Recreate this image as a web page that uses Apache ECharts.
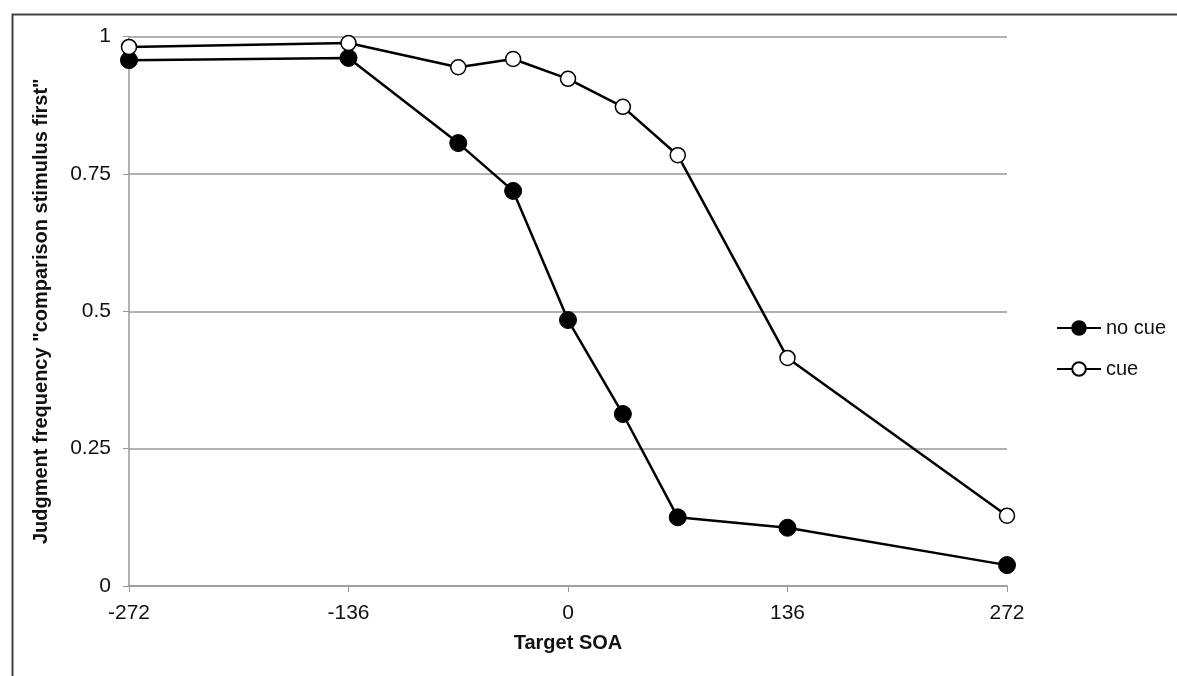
<!DOCTYPE html>
<html>
<head>
<meta charset="utf-8">
<script src="https://cdn.jsdelivr.net/npm/echarts@6/dist/echarts.min.js"></script>
<style>html,body{margin:0;padding:0;background:#fff;}#c{width:1177px;height:676px;}</style>
</head>
<body>
<div id="c"></div>
<script>
const soa = [-272, -136, -68, -34, 0, 34, 68, 136, 272];
const noCue = [0.957, 0.961, 0.806, 0.719, 0.484, 0.313, 0.125, 0.106, 0.038];
const cue = [0.981, 0.988, 0.944, 0.959, 0.923, 0.872, 0.784, 0.415, 0.128];
const xTicks = [-272, -136, 0, 136, 272];
const yTicks = [0, 0.25, 0.5, 0.75, 1];

const chart = echarts.init(document.getElementById('c'));
const font = 'Liberation Sans, Arial, sans-serif';
chart.setOption({
  animation: false,
  backgroundColor: '#fff',
  graphic: [{
    type: 'rect', left: 10, top: 12, z: -1,
    shape: { width: 1200, height: 700 },
    style: { fill: 'none', stroke: '#444', lineWidth: 2 }
  }],
  grid: { left: 129, right: 170, top: 36.5, bottom: 90 },
  legend: {
    orient: 'vertical', left: 1056, top: 318, itemGap: 21, padding: 0,
    itemWidth: 44, itemHeight: 17,
    textStyle: { fontFamily: font, fontSize: 20, color: '#111' },
    data: ['no cue', 'cue']
  },
  xAxis: {
    type: 'value', min: -272, max: 272, interval: 136,
    name: 'Target SOA', nameLocation: 'middle', nameGap: 47,
    nameTextStyle: { fontFamily: font, fontSize: 20, fontWeight: 'bold', color: '#111' },
    axisLine: { lineStyle: { color: '#999', width: 1.5 } },
    axisTick: { show: true, length: 6, lineStyle: { color: '#999' } },
    splitLine: { show: false },
    axisLabel: { fontFamily: font, fontSize: 21, color: '#111', margin: 17,
      formatter: v => xTicks.includes(v) ? String(v) : '' }
  },
  yAxis: {
    type: 'value', min: 0, max: 1, interval: 0.25,
    name: 'Judgment frequency "comparison stimulus first"', nameLocation: 'middle', nameGap: 78,
    nameTextStyle: { fontFamily: font, fontSize: 20, fontWeight: 'bold', color: '#111' },
    axisLine: { show: true, onZero: false, lineStyle: { color: '#999', width: 1.5 } },
    axisTick: { show: true, length: 6, lineStyle: { color: '#999' } },
    splitLine: { lineStyle: { color: '#999', width: 1.5 } },
    axisLabel: { fontFamily: font, fontSize: 21, color: '#111', margin: 18,
      formatter: v => yTicks.includes(v) ? String(v) : '' }
  },
  series: [
    {
      name: 'no cue', type: 'line',
      data: soa.map((x, i) => [x, noCue[i]]),
      symbol: 'circle', symbolSize: 17,
      lineStyle: { color: '#000', width: 2.5 },
      itemStyle: { color: '#000', borderColor: '#000', borderWidth: 1 }
    },
    {
      name: 'cue', type: 'line',
      data: soa.map((x, i) => [x, cue[i]]),
      symbol: 'circle', symbolSize: 15,
      lineStyle: { color: '#000', width: 2.5 },
      itemStyle: { color: '#fff', borderColor: '#000', borderWidth: 1.5 }
    }
  ]
});
</script>
</body>
</html>
